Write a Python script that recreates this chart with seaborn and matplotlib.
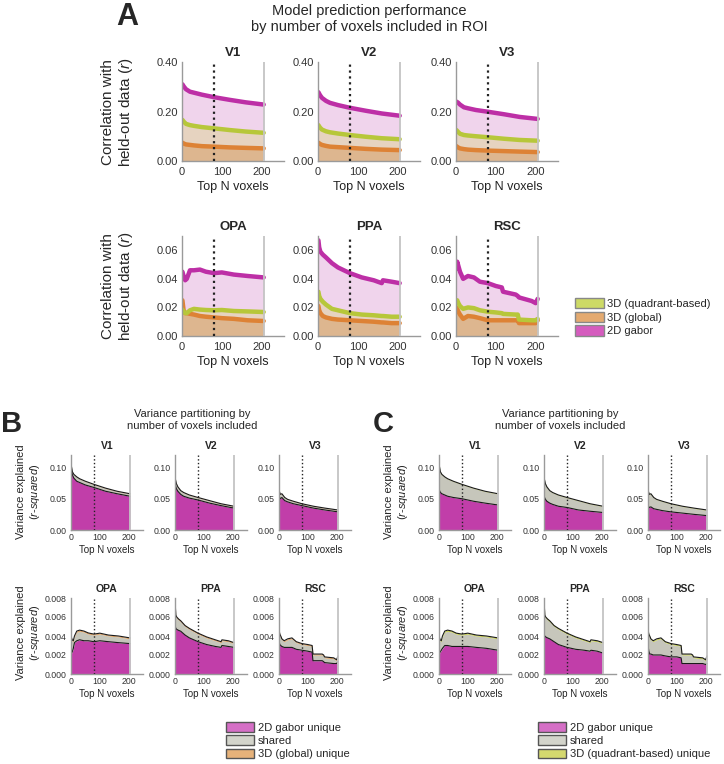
import numpy as np
import seaborn as sns
import matplotlib.pyplot as plt
from matplotlib.patches import Patch
from matplotlib.ticker import FormatStrFormatter

sns.set_style("white")
plt.rcParams['font.family'] = ['Liberation Sans', 'DejaVu Sans']
plt.rcParams['mathtext.fontset'] = 'custom'
plt.rcParams['mathtext.it'] = 'Liberation Sans:italic'
plt.rcParams['mathtext.rm'] = 'Liberation Sans'

W, H = 724, 764

# ---------------- data ----------------
# early visual ROIs share one x grid
x_early = [1, 5, 10, 20, 30, 50, 80, 120, 160, 205]
x_opa = [1, 4, 8, 12, 20, 30, 45, 60, 80, 100, 130, 165, 205]
x_ppa = [1, 3, 6, 12, 20, 35, 50, 80, 110, 140, 160, 163, 185, 205]
x_rsc = [1, 3, 6, 10, 18, 30, 45, 60, 80, 100, 115, 118, 150, 155, 158, 190, 200, 205]

# panel A : correlation with held-out data
v1_gabor = [0.310, 0.300, 0.290, 0.280, 0.276, 0.268, 0.258, 0.247, 0.237, 0.228]
v1_quad = [0.166, 0.158, 0.150, 0.145, 0.142, 0.137, 0.132, 0.125, 0.119, 0.114]
v1_glob = [0.074, 0.070, 0.067, 0.065, 0.063, 0.060, 0.058, 0.055, 0.053, 0.051]
v2_gabor = [0.278, 0.266, 0.255, 0.243, 0.235, 0.226, 0.215, 0.203, 0.192, 0.183]
v2_quad = [0.145, 0.135, 0.127, 0.120, 0.116, 0.111, 0.105, 0.098, 0.092, 0.088]
v2_glob = [0.074, 0.069, 0.065, 0.061, 0.058, 0.056, 0.053, 0.049, 0.046, 0.044]
v3_gabor = [0.240, 0.236, 0.228, 0.217, 0.213, 0.206, 0.199, 0.189, 0.178, 0.170]
v3_quad = [0.125, 0.118, 0.110, 0.105, 0.103, 0.100, 0.096, 0.090, 0.085, 0.082]
v3_glob = [0.060, 0.055, 0.051, 0.048, 0.046, 0.044, 0.042, 0.040, 0.038, 0.036]
opa_gabor = [0.045, 0.042, 0.039, 0.040, 0.046, 0.046, 0.0465, 0.045, 0.044, 0.0445, 0.043, 0.042, 0.041]
opa_quad = [0.0185, 0.017, 0.016, 0.016, 0.018, 0.019, 0.0185, 0.0182, 0.018, 0.0182, 0.0175, 0.0172, 0.0168]
opa_glob = [0.025, 0.018, 0.016, 0.016, 0.0155, 0.015, 0.014, 0.0135, 0.013, 0.0125, 0.012, 0.011, 0.0105]
ppa_gabor = [0.067, 0.062, 0.059, 0.057, 0.055, 0.051, 0.048, 0.044, 0.041, 0.039, 0.037, 0.039, 0.038, 0.037]
ppa_quad = [0.031, 0.028, 0.026, 0.024, 0.022, 0.019, 0.018, 0.016, 0.015, 0.0145, 0.014, 0.014, 0.0135, 0.0135]
ppa_glob = [0.021, 0.018, 0.016, 0.014, 0.013, 0.012, 0.0115, 0.011, 0.0105, 0.010, 0.0095, 0.0095, 0.009, 0.009]
rsc_gabor = [0.047, 0.052, 0.049, 0.045, 0.040, 0.042, 0.041, 0.038, 0.037, 0.035, 0.034, 0.031, 0.029, 0.028, 0.027, 0.0245, 0.023, 0.026]
rsc_quad = [0.024, 0.025, 0.023, 0.021, 0.019, 0.020, 0.0195, 0.018, 0.017, 0.0165, 0.016, 0.0155, 0.015, 0.015, 0.0115, 0.011, 0.011, 0.012]
rsc_glob = [0.020, 0.019, 0.017, 0.015, 0.012, 0.014, 0.0135, 0.0125, 0.011, 0.011, 0.011, 0.011, 0.011, 0.011, 0.009, 0.009, 0.009, 0.011]

# panel B : gabor vs 3D global (unique / shared / unique)
b_v1_gabor = [0.097, 0.088, 0.083, 0.078, 0.076, 0.072, 0.068, 0.062, 0.058, 0.054]
b_v1_shared = [0.0055, 0.0045, 0.0055, 0.0065, 0.0055, 0.0055, 0.0045, 0.0045, 0.0035, 0.0035]
b_v1_other = [0.0005, 0.0005, 0.0005, 0.0005, 0.0005, 0.0005, 0.0005, 0.0005, 0.0005, 0.0005]
b_v2_gabor = [0.072, 0.066, 0.062, 0.057, 0.054, 0.051, 0.048, 0.043, 0.039, 0.035]
b_v2_shared = [0.0095, 0.0075, 0.0065, 0.0055, 0.0055, 0.0045, 0.0035, 0.0035, 0.0025, 0.0025]
b_v2_other = [0.0005, 0.0005, 0.0005, 0.0005, 0.0005, 0.0005, 0.0005, 0.0005, 0.0005, 0.0005]
b_v3_gabor = [0.053, 0.050, 0.052, 0.047, 0.045, 0.042, 0.039, 0.035, 0.032, 0.029]
b_v3_shared = [0.0085, 0.0065, 0.0055, 0.0045, 0.0035, 0.0035, 0.0025, 0.0025, 0.0025, 0.0025]
b_v3_other = [0.0005, 0.0005, 0.0005, 0.0005, 0.0005, 0.0005, 0.0005, 0.0005, 0.0005, 0.0005]
b_opa_gabor = [0.0022, 0.0023, 0.0027, 0.0033, 0.0035, 0.0036, 0.0035, 0.0035, 0.0034, 0.0035, 0.0034, 0.0033, 0.0032]
b_opa_shared = [0.0016, 0.0012, 0.0007, 0.0006, 0.0009, 0.0009, 0.0009, 0.0007, 0.0007, 0.0007, 0.0006, 0.0006, 0.0005]
b_opa_other = [0.0001, 0.0001, 0.0001, 0.0001, 0.00012, 0.00012, 0.00012, 0.00012, 0.0001, 0.0001, 0.0001, 0.0001, 0.0001]
b_ppa_gabor = [0.0050, 0.0048, 0.0047, 0.0046, 0.0045, 0.0041, 0.0038, 0.0034, 0.0031, 0.0029, 0.0028, 0.0030, 0.0029, 0.0028]
b_ppa_shared = [0.0021, 0.0013, 0.0012, 0.0011, 0.0010, 0.0009, 0.0009, 0.0008, 0.0007, 0.0006, 0.0005, 0.0005, 0.0005, 0.0004]
b_ppa_other = [0.0001] * 14
b_rsc_gabor = [0.0033, 0.0031, 0.0030, 0.0029, 0.0028, 0.0028, 0.0028, 0.0026, 0.0025, 0.0024, 0.0023, 0.0014, 0.0014, 0.0013, 0.0012, 0.0011, 0.0011, 0.0013]
b_rsc_shared = [0.0011, 0.0010, 0.0009, 0.0007, 0.0006, 0.0008, 0.0009, 0.0007, 0.0006, 0.0006, 0.0006, 0.0006, 0.0006, 0.0006, 0.0005, 0.0005, 0.0003, 0.0005]
b_rsc_other = [0.0001] * 18

# panel C : gabor vs 3D quadrant-based
c_v1_gabor = [0.064, 0.060, 0.058, 0.056, 0.054, 0.052, 0.050, 0.046, 0.043, 0.040]
c_v1_shared = [0.0385, 0.0325, 0.0305, 0.0285, 0.0275, 0.0255, 0.0225, 0.0205, 0.0185, 0.0175]
c_v1_other = [0.0005] * 10
c_v2_gabor = [0.053, 0.049, 0.046, 0.043, 0.041, 0.038, 0.036, 0.032, 0.030, 0.028]
c_v2_shared = [0.0285, 0.0245, 0.0225, 0.0195, 0.0185, 0.0175, 0.0155, 0.0145, 0.0115, 0.0095]
c_v2_other = [0.0005] * 10
c_v3_gabor = [0.038, 0.036, 0.037, 0.034, 0.033, 0.031, 0.029, 0.027, 0.025, 0.023]
c_v3_shared = [0.0235, 0.0205, 0.0205, 0.0175, 0.0155, 0.0145, 0.0125, 0.0105, 0.0095, 0.0085]
c_v3_other = [0.0005] * 10
c_opa_gabor = [0.0022, 0.0023, 0.0025, 0.0027, 0.0030, 0.0030, 0.0029, 0.0029, 0.0029, 0.0029, 0.0028, 0.0027, 0.0025]
c_opa_shared = [0.0016, 0.0012, 0.0009, 0.0012, 0.0014, 0.0015, 0.0015, 0.0013, 0.0012, 0.0013, 0.0012, 0.0012, 0.0012]
c_opa_other = [0.0001, 0.0001, 0.0001, 0.0001, 0.00012, 0.00012, 0.00012, 0.0001, 0.0001, 0.0001, 0.0001, 0.0001, 0.0001]
c_ppa_gabor = [0.0040, 0.0040, 0.0039, 0.0038, 0.0037, 0.0034, 0.0031, 0.0028, 0.0026, 0.0025, 0.0024, 0.0025, 0.0024, 0.0022]
c_ppa_shared = [0.0031, 0.0021, 0.0020, 0.0019, 0.0018, 0.0016, 0.0016, 0.0014, 0.0012, 0.0010, 0.0009, 0.0010, 0.0010, 0.0010]
c_ppa_other = [0.0001] * 14
c_rsc_gabor = [0.0028, 0.0024, 0.0021, 0.0021, 0.0020, 0.0020, 0.0020, 0.0019, 0.0018, 0.0018, 0.0017, 0.0011, 0.0011, 0.0011, 0.0011, 0.0011, 0.0010, 0.0011]
c_rsc_shared = [0.0016, 0.0017, 0.0018, 0.0015, 0.0014, 0.0016, 0.0017, 0.0014, 0.0013, 0.0012, 0.0012, 0.0009, 0.0009, 0.0008, 0.0006, 0.0005, 0.0004, 0.0007]
c_rsc_other = [0.0001] * 18

x_ticks = [0, 100, 200]
cutoff_n = 80
max_n = 206

# colours
MAG_LINE, MAG_FILL = '#BD2FA6', '#F0D4EC'
QUAD_LINE, QUAD_FILL = '#B7C73A', '#E6D3C0'
GLOB_LINE, GLOB_FILL = '#DD8235', '#DDB68F'
ST_MAG, ST_GRAY, ST_ORANGE, ST_YG = '#C13EA9', '#C6C6BB', '#DE9F5E', '#C5CE4C'
SPINE = '#9a9a9a'
TXT = '#333333'

fig = plt.figure(figsize=(W / 100, H / 100), dpi=100)


def px_axes(left, top, width, height):
    return fig.add_axes([left / W, 1 - (top + height) / H, width / W, height / H])


def style_axes(ax, xmax, ylim, yticks, yfmt, title, fs_tick, fs_lab, fs_title, dot_lw, xpad, lpad):
    ax.set_xlim(0, xmax)
    ax.set_ylim(*ylim)
    ax.set_xticks(x_ticks)
    ax.set_yticks(yticks)
    ax.yaxis.set_major_formatter(FormatStrFormatter(yfmt))
    ax.tick_params(length=0, labelsize=fs_tick, labelcolor=TXT, pad=3)
    ax.tick_params(axis='x', pad=xpad)
    ax.axvline(cutoff_n, color='#222222', ls=':', lw=dot_lw, zorder=5)
    ax.axvline(max_n, color='#c4c4c4', lw=1.3, zorder=5)
    sns.despine(ax=ax)
    for s in ['left', 'bottom']:
        ax.spines[s].set_color(SPINE)
        ax.spines[s].set_linewidth(1.0)
    ax.set_xlabel('Top N voxels', fontsize=fs_lab, color='#222222', labelpad=lpad)
    ax.set_ylabel('')
    ax.set_title(title, fontweight='bold', fontsize=fs_title, pad=4)


def panel_a(ax, x, gabor, quad, glob, ylim, yticks, title):
    ax.fill_between(x, 0, gabor, color=MAG_FILL, lw=0)
    ax.fill_between(x, 0, quad, color=QUAD_FILL, lw=0)
    ax.fill_between(x, 0, glob, color=GLOB_FILL, lw=0)
    for ys, c in [(glob, GLOB_LINE), (quad, QUAD_LINE), (gabor, MAG_LINE)]:
        sns.lineplot(x=x, y=ys, ax=ax, color=c, linewidth=3.2, estimator=None,
                     sort=False, legend=False)
    style_axes(ax, 256, ylim, yticks, '%.2f', title, 8, 9, 9.5, 1.6, 4.5, 3)


def panel_vp(ax, x, gabor, shared, other, other_col, ylim, yticks, yfmt, title):
    ax.stackplot(x, gabor, shared, other, colors=[ST_MAG, ST_GRAY, other_col], lw=0)
    low = np.array(gabor)
    top = low + np.array(shared) + np.array(other)
    sns.lineplot(x=x, y=low, ax=ax, color='#1a1a1a', linewidth=0.8, estimator=None,
                 sort=False, legend=False)
    sns.lineplot(x=x, y=top, ax=ax, color='#1a1a1a', linewidth=0.8, estimator=None,
                 sort=False, legend=False)
    style_axes(ax, 250, ylim, yticks, yfmt, title, 6.3, 7, 7.5, 1.0, 2.5, 2)


# ---------------- panel A ----------------
a_left = [182, 318, 456]
a_top = [(x_early, v1_gabor, v1_quad, v1_glob, 'V1'),
         (x_early, v2_gabor, v2_quad, v2_glob, 'V2'),
         (x_early, v3_gabor, v3_quad, v3_glob, 'V3')]
a_bot = [(x_opa, opa_gabor, opa_quad, opa_glob, 'OPA'),
         (x_ppa, ppa_gabor, ppa_quad, ppa_glob, 'PPA'),
         (x_rsc, rsc_gabor, rsc_quad, rsc_glob, 'RSC')]
for left, (x, g, q, o, t) in zip(a_left, a_top):
    ax = px_axes(left, 62, 102, 99)
    panel_a(ax, x, g, q, o, (0, 0.40), [0, 0.2, 0.4], t)
for left, (x, g, q, o, t) in zip(a_left, a_bot):
    ax = px_axes(left, 236, 102, 100)
    panel_a(ax, x, g, q, o, (0, 0.07), [0, 0.02, 0.04, 0.06], t)

ylab_a = 'Correlation with\nheld-out data ($\\it{r}$)'
fig.text(118 / W, 1 - 112 / H, ylab_a, rotation=90, ha='center', va='center', fontsize=11)
fig.text(118 / W, 1 - 286 / H, ylab_a, rotation=90, ha='center', va='center', fontsize=11)
fig.text(127 / W, 1 - 17 / H, 'A', fontsize=22, fontweight='bold', ha='center', va='center')
fig.text(369 / W, 1 - 19 / H, 'Model prediction performance\nby number of voxels included in ROI',
         ha='center', va='center', fontsize=10.5, linespacing=1.1)

leg_a = [Patch(facecolor='#CDDA66', edgecolor='#888888', label='3D (quadrant-based)'),
         Patch(facecolor='#E4AA70', edgecolor='#888888', label='3D (global)'),
         Patch(facecolor='#D55CBE', edgecolor='#888888', label='2D gabor')]
fig.legend(handles=leg_a, loc='upper left', bbox_to_anchor=(575 / W, 1 - 298 / H),
           frameon=False, fontsize=8, handlelength=2.6, handleheight=1.05,
           handletextpad=0.3, labelspacing=0.25, borderpad=0, borderaxespad=0)

# ---------------- panels B and C ----------------
vp_sets = [
    ('B', [71, 175, 279], ST_ORANGE,
     [(x_early, b_v1_gabor, b_v1_shared, b_v1_other, 'V1'),
      (x_early, b_v2_gabor, b_v2_shared, b_v2_other, 'V2'),
      (x_early, b_v3_gabor, b_v3_shared, b_v3_other, 'V3')],
     [(x_opa, b_opa_gabor, b_opa_shared, b_opa_other, 'OPA'),
      (x_ppa, b_ppa_gabor, b_ppa_shared, b_ppa_other, 'PPA'),
      (x_rsc, b_rsc_gabor, b_rsc_shared, b_rsc_other, 'RSC')]),
    ('C', [439, 544, 648], ST_YG,
     [(x_early, c_v1_gabor, c_v1_shared, c_v1_other, 'V1'),
      (x_early, c_v2_gabor, c_v2_shared, c_v2_other, 'V2'),
      (x_early, c_v3_gabor, c_v3_shared, c_v3_other, 'V3')],
     [(x_opa, c_opa_gabor, c_opa_shared, c_opa_other, 'OPA'),
      (x_ppa, c_ppa_gabor, c_ppa_shared, c_ppa_other, 'PPA'),
      (x_rsc, c_rsc_gabor, c_rsc_shared, c_rsc_other, 'RSC')]),
]
for letter, lefts, ocol, top_rows, bot_rows in vp_sets:
    for left, (x, g, s, o, t) in zip(lefts, top_rows):
        ax = px_axes(left, 455, 72, 75)
        panel_vp(ax, x, g, s, o, ocol, (0, 0.12), [0, 0.05, 0.10], '%.2f', t)
    for left, (x, g, s, o, t) in zip(lefts, bot_rows):
        ax = px_axes(left, 598, 72, 76)
        panel_vp(ax, x, g, s, o, ocol, (0, 0.008), [0, 0.002, 0.004, 0.006, 0.008], '%.3f', t)

ylab_b = 'Variance explained\n($\\it{r}$-$\\it{squared}$)'
for xc in [29, 397]:
    fig.text(xc / W, 1 - 492 / H, ylab_b, rotation=90, ha='center', va='center', fontsize=8)
    fig.text(xc / W, 1 - 633 / H, ylab_b, rotation=90, ha='center', va='center', fontsize=8)

fig.text(1 / W, 1 - 424 / H, 'B', fontsize=21, fontweight='bold', ha='left', va='center')
fig.text(373 / W, 1 - 424 / H, 'C', fontsize=21, fontweight='bold', ha='left', va='center')
vp_title = 'Variance partitioning by\nnumber of voxels included'
fig.text(192 / W, 1 - 420 / H, vp_title, ha='center', va='center', fontsize=8, linespacing=1.15)
fig.text(560 / W, 1 - 420 / H, vp_title, ha='center', va='center', fontsize=8, linespacing=1.15)

leg_b = [Patch(facecolor='#D56FC6', edgecolor='#555555', label='2D gabor unique'),
         Patch(facecolor='#D3D4CB', edgecolor='#555555', label='shared'),
         Patch(facecolor='#E6B27A', edgecolor='#555555', label='3D (global) unique')]
leg_c = [Patch(facecolor='#D56FC6', edgecolor='#555555', label='2D gabor unique'),
         Patch(facecolor='#D3D4CB', edgecolor='#555555', label='shared'),
         Patch(facecolor='#D4D86E', edgecolor='#555555', label='3D (quadrant-based) unique')]
for handles, xl in [(leg_b, 226), (leg_c, 538)]:
    fig.legend(handles=handles, loc='upper left', bbox_to_anchor=(xl / W, 1 - 722 / H),
               frameon=False, fontsize=8, handlelength=2.55, handleheight=0.95,
               handletextpad=0.35, labelspacing=0.25, borderpad=0, borderaxespad=0)

fig.savefig('out.png', dpi=100)
